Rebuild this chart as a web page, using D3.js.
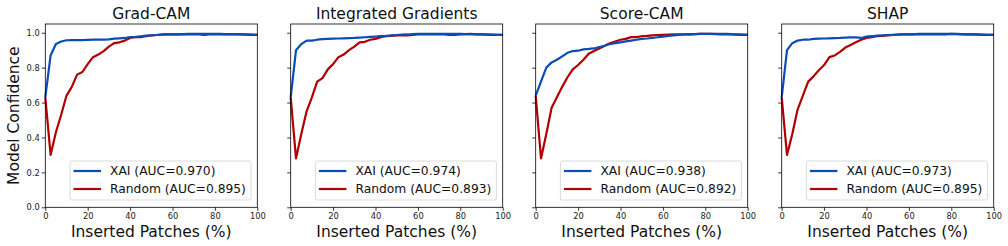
<!DOCTYPE html>
<html>
<head>
<meta charset="utf-8">
<script src="https://cdn.jsdelivr.net/npm/d3@7"></script>
<style>
  body { margin: 0; background: #fff; }
  svg { display: block; font-family: "DejaVu Sans", sans-serif; }
</style>
</head>
<body>
<svg width="1008" height="246"></svg>
<script>
// x positions (inserted patches, %)
const steps = [0, 2.5, 5, 7.5, 10, 12.5, 15, 17.5, 20, 22.5, 25, 27.5, 30, 32.5, 35, 37.5, 40,
  42.5, 45, 47.5, 50, 52.5, 55, 57.5, 60, 62.5, 65, 67.5, 70, 72.5, 75, 77.5, 80, 82.5, 85, 87.5, 90, 92.5, 95, 97.5, 100];

const methods = ["Grad-CAM", "Integrated Gradients", "Score-CAM", "SHAP"];
const xaiAuc = ["0.970", "0.974", "0.938", "0.973"];
const randAuc = ["0.895", "0.893", "0.892", "0.895"];

const gradcamXai = [0.63, 0.87, 0.935, 0.95, 0.957, 0.958, 0.958, 0.958, 0.959, 0.96, 0.96, 0.961, 0.962, 0.966, 0.968, 0.97, 0.975,
  0.977, 0.98, 0.983, 0.985, 0.987, 0.989, 0.99, 0.99, 0.991, 0.992, 0.993, 0.993, 0.993, 0.993, 0.993, 0.993, 0.993, 0.992, 0.992, 0.992, 0.991, 0.99, 0.989, 0.988];
const gradcamRand = [0.63, 0.30, 0.43, 0.53, 0.64, 0.69, 0.76, 0.775, 0.82, 0.86, 0.875, 0.895, 0.92, 0.94, 0.945, 0.955, 0.97,
  0.975, 0.975, 0.98, 0.985, 0.987, 0.99, 0.99, 0.99, 0.99, 0.99, 0.99, 0.99, 0.99, 0.987, 0.99, 0.99, 0.99, 0.99, 0.99, 0.99, 0.99, 0.989, 0.988, 0.988];

const igXai = [0.63, 0.90, 0.935, 0.955, 0.955, 0.96, 0.963, 0.965, 0.966, 0.967, 0.968, 0.969, 0.97, 0.972, 0.974, 0.976, 0.978,
  0.98, 0.982, 0.985, 0.987, 0.989, 0.99, 0.992, 0.993, 0.993, 0.993, 0.993, 0.993, 0.993, 0.993, 0.993, 0.993, 0.992, 0.992, 0.991, 0.99, 0.99, 0.989, 0.988, 0.988];
const igRand = [0.63, 0.28, 0.42, 0.55, 0.63, 0.72, 0.74, 0.79, 0.82, 0.86, 0.875, 0.90, 0.92, 0.945, 0.948, 0.96, 0.965,
  0.975, 0.98, 0.982, 0.985, 0.985, 0.985, 0.988, 0.99, 0.99, 0.99, 0.99, 0.99, 0.99, 0.987, 0.988, 0.99, 0.992, 0.993, 0.991, 0.99, 0.989, 0.988, 0.988, 0.988];

const scorecamXai = [0.64, 0.72, 0.80, 0.83, 0.845, 0.865, 0.885, 0.895, 0.897, 0.905, 0.907, 0.91, 0.918, 0.925, 0.935, 0.94, 0.945,
  0.95, 0.955, 0.96, 0.965, 0.967, 0.97, 0.974, 0.978, 0.982, 0.985, 0.988, 0.99, 0.991, 0.992, 0.993, 0.993, 0.993, 0.993, 0.993, 0.993, 0.992, 0.99, 0.989, 0.988];
const scorecamRand = [0.64, 0.28, 0.42, 0.57, 0.63, 0.69, 0.745, 0.79, 0.815, 0.845, 0.88, 0.895, 0.91, 0.925, 0.94, 0.95, 0.96,
  0.965, 0.975, 0.975, 0.98, 0.982, 0.985, 0.987, 0.988, 0.989, 0.99, 0.99, 0.99, 0.991, 0.992, 0.993, 0.993, 0.993, 0.992, 0.991, 0.99, 0.99, 0.989, 0.988, 0.988];

const shapXai = [0.63, 0.90, 0.94, 0.955, 0.96, 0.96, 0.965, 0.966, 0.967, 0.968, 0.969, 0.97, 0.972, 0.973, 0.973, 0.97, 0.978,
  0.98, 0.983, 0.985, 0.987, 0.988, 0.989, 0.99, 0.99, 0.992, 0.993, 0.993, 0.993, 0.993, 0.993, 0.993, 0.993, 0.993, 0.992, 0.991, 0.99, 0.99, 0.989, 0.988, 0.988];
const shapRand = [0.63, 0.30, 0.42, 0.56, 0.64, 0.72, 0.75, 0.785, 0.815, 0.86, 0.87, 0.89, 0.915, 0.93, 0.945, 0.96, 0.97,
  0.975, 0.98, 0.982, 0.985, 0.987, 0.99, 0.99, 0.99, 0.99, 0.99, 0.99, 0.99, 0.99, 0.99, 0.991, 0.993, 0.992, 0.991, 0.99, 0.99, 0.989, 0.988, 0.988, 0.988];

const xaiSeries = [gradcamXai, igXai, scorecamXai, shapXai];
const randSeries = [gradcamRand, igRand, scorecamRand, shapRand];

const xTicks = [0, 20, 40, 60, 80, 100];
const yTicks = [0.0, 0.2, 0.4, 0.6, 0.8, 1.0];

const blue = "#0b4cb5";
const red = "#b00000";

const svg = d3.select("svg");

const panelLefts = [45.3, 290.7, 535.7, 781.7];
const pw = 212;
const plotTop = 24;
const plotBottom = 207.3;

const y = d3.scaleLinear().domain([0, 1.05]).range([plotBottom, plotTop]);

methods.forEach((name, i) => {
  const x = d3.scaleLinear().domain([0, 100]).range([panelLefts[i], panelLefts[i] + pw]);

  const g = svg.append("g");

  // axes
  const xAxis = g.append("g")
    .attr("transform", `translate(0, ${plotBottom})`)
    .call(d3.axisBottom(x).tickValues(xTicks).tickSize(3.5).tickPadding(2).tickFormat(d3.format("d")));
  const yAxis = g.append("g")
    .attr("transform", `translate(${panelLefts[i]}, 0)`)
    .call(d3.axisLeft(y).tickValues(yTicks).tickSize(3.5).tickPadding(2)
      .tickFormat(i === 0 ? d3.format(".1f") : ""));
  [xAxis, yAxis].forEach((a) => {
    a.select(".domain").remove();
    a.selectAll("line").attr("stroke", "#000").attr("stroke-width", 0.8);
    a.selectAll("text").attr("font-size", "8.3px").attr("fill", "#222")
      .attr("font-family", "DejaVu Sans, sans-serif");
  });

  // lines
  const line = d3.line().x((d, k) => x(steps[k])).y((d) => y(d));
  g.append("path").datum(randSeries[i]).attr("d", line)
    .attr("fill", "none").attr("stroke", red).attr("stroke-width", 2.2).attr("stroke-linejoin", "round");
  g.append("path").datum(xaiSeries[i]).attr("d", line)
    .attr("fill", "none").attr("stroke", blue).attr("stroke-width", 2.2).attr("stroke-linejoin", "round");

  // frame
  g.append("rect")
    .attr("x", panelLefts[i]).attr("y", plotTop)
    .attr("width", pw).attr("height", plotBottom - plotTop)
    .attr("fill", "none").attr("stroke", "#000").attr("stroke-width", 0.8);

  // title
  g.append("text")
    .attr("x", panelLefts[i] + pw / 2).attr("y", 19)
    .attr("text-anchor", "middle").attr("font-size", "15.5px").attr("fill", "#111")
    .text(name);

  // x label
  g.append("text")
    .attr("x", panelLefts[i] + pw / 2).attr("y", 237)
    .attr("text-anchor", "middle").attr("font-size", "15.5px").attr("fill", "#111")
    .text("Inserted Patches (%)");

  // legend
  const lx = panelLefts[i] + 24.7;
  const legend = g.append("g").attr("transform", `translate(${lx}, 161)`);
  legend.append("rect")
    .attr("width", 181).attr("height", 39).attr("rx", 2)
    .attr("fill", "#fff").attr("fill-opacity", 0.8)
    .attr("stroke", "#d0d0d0").attr("stroke-width", 0.8);
  const entries = [
    { label: `XAI (AUC=${xaiAuc[i]})`, color: blue },
    { label: `Random (AUC=${randAuc[i]})`, color: red }
  ];
  entries.forEach((e, k) => {
    const ly = 10 + k * 18;
    legend.append("line")
      .attr("x1", 3.5).attr("x2", 31).attr("y1", ly).attr("y2", ly)
      .attr("stroke", e.color).attr("stroke-width", 2.2);
    legend.append("text")
      .attr("x", 40).attr("y", ly + 4.3)
      .attr("font-size", "12.3px").attr("fill", "#111")
      .text(e.label);
  });
});

// y label
svg.append("text")
  .attr("transform", `translate(19, ${(plotTop + plotBottom) / 2}) rotate(-90)`)
  .attr("text-anchor", "middle").attr("font-size", "15.5px").attr("fill", "#111")
  .text("Model Confidence");
</script>
</body>
</html>
